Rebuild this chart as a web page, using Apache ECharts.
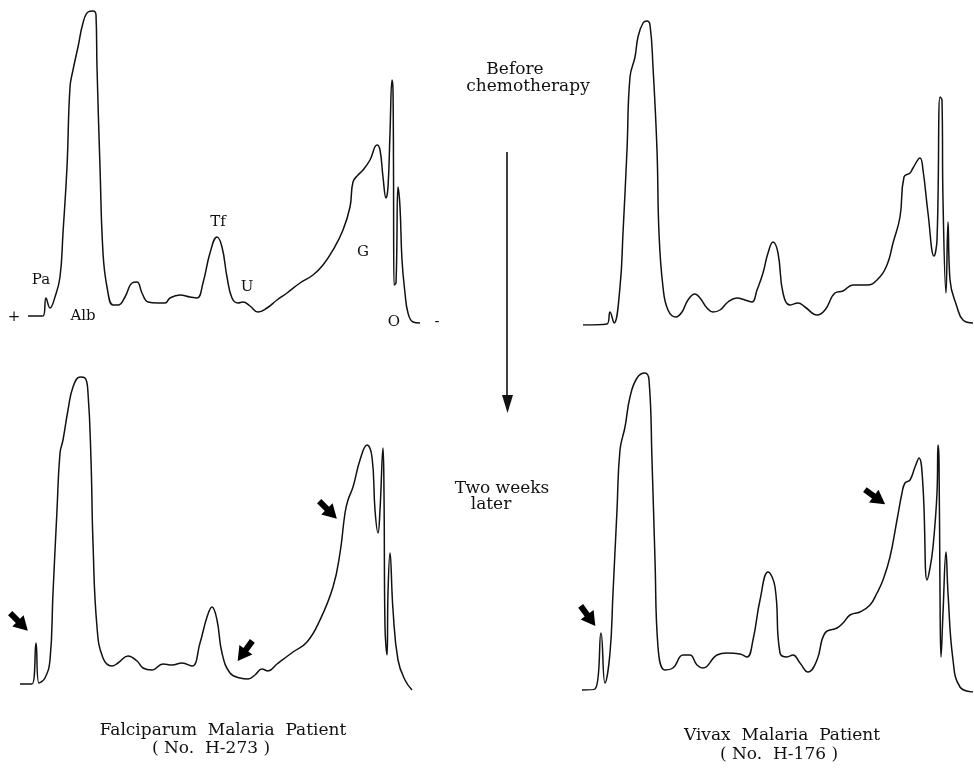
<!DOCTYPE html>
<html><head><meta charset="utf-8">
<script src="https://cdn.jsdelivr.net/npm/echarts@6/dist/echarts.min.js"></script>
<style>html,body{margin:0;padding:0;background:#fff}#c{width:974px;height:771px}</style>
</head><body><div id="c"></div>
<script>
// Densitometric scans: x = scan position, y = relative absorbance above baseline
const falciparumBefore = [[8,9],[23,9],[26,27],[30,17],[35,28],[40,48],[43,92],[47,158],[50,238],[53,255],[58,278],[63,302],[68,313],[73,314],[76,310],[77,258],[80,158],[83,72],[87,38],[93,20],[98,20],[105,28],[112,42],[117,43],[122,32],[128,23],[138,22],[145,22],[150,27],[160,30],[170,28],[177,27],[183,42],[190,72],[197,88],[202,78],[207,48],[212,27],[218,22],[223,23],[230,19],[238,13],[247,17],[257,25],[267,32],[280,42],[293,50],[303,60],[313,75],[323,95],[330,118],[333,143],[338,150],[343,155],[350,165],[357,180],[360,175],[363,148],[366,127],[368,138],[370,192],[372,245],[373,235],[373.5,158],[374,40],[376,42],[378,138],[380,118],[382,65],[385,32],[388,12],[393,3],[400,2]];
const vivaxBefore = [[3,0],[27,1],[30,13],[34,2],[40,38],[43,92],[47,175],[50,248],[55,268],[58,288],[63,302],[67,304],[70,300],[73,258],[77,175],[79,92],[83,38],[88,15],[96,8],[102,13],[108,25],[115,31],[120,27],[127,17],[133,13],[140,15],[148,23],[157,27],[165,25],[172,23],[177,35],[183,52],[188,72],[193,83],[198,72],[203,32],[210,20],[218,22],[225,18],[237,10],[245,15],[255,32],[263,34],[273,40],[287,40],[297,45],[307,60],[313,82],[320,108],[324,148],[330,152],[333,157],[340,167],[343,155],[348,112],[354,69],[357,85],[360,228],[362,225],[363,125],[366,32],[368,103],[370,45],[377,18],[383,5],[393,2]];
const falciparumAfter = [[5,6],[17,6],[21,47],[24,7],[30,12],[35,30],[38,97],[42,180],[45,237],[48,250],[53,280],[58,303],[65,313],[70,312],[73,297],[76,230],[78,147],[82,63],[88,32],[97,24],[103,27],[113,34],[122,29],[128,22],[137,20],[148,26],[157,25],[167,27],[177,24],[185,47],[192,73],[197,83],[202,70],[207,37],[215,17],[225,12],[233,11],[240,15],[247,21],[253,19],[262,26],[278,38],[292,48],[305,70],[318,103],[325,137],[330,177],[333,190],[338,203],[345,230],[352,245],[357,233],[360,180],[363,157],[365,180],[368,242],[369,197],[370,63],[372,35],[373,97],[375,137],[378,80],[383,30],[390,10],[397,0]];
const vivaxAfter = [[2,2],[15,3],[21,59],[25,9],[30,39],[33,99],[37,182],[40,242],[45,265],[50,295],[57,314],[65,319],[69,312],[72,232],[75,132],[78,45],[85,22],[93,24],[103,37],[110,37],[117,27],[123,24],[137,37],[147,39],[160,38],[167,35],[173,52],[180,92],[188,120],[195,105],[200,39],[207,35],[213,37],[220,29],[228,20],[237,32],[245,59],[257,64],[263,69],[270,77],[280,80],[290,87],[297,99],[303,112],[310,135],[317,172],[322,199],[325,209],[330,212],[335,225],[339,234],[343,205],[347,112],[350,124],[353,145],[357,199],[358,247],[359,232],[360,99],[361,35],[363,79],[366,140],[368,99],[373,32],[380,5],[393,0]];
// Arrow annotations: [x, y, rotation]
const falciparumArrows = [[4,68,-45],[230,39,-126],[313,180,-45]];
const vivaxArrows = [[8,76,-54],[295,195,-36]];
// Fraction labels (top-left scan)
const fractionLabels = [['Pa',41,280],['Alb',83,316],['Tf',218,222],['U',247,287],['G',363,252],['O',394,322],['+',14,317],['-',437,322]];

const SERIF = '"DejaVu Serif","Liberation Serif",serif';
const ARROW = 'path://M0,5 L11,5 L11,0 L25,8 L11,16 L11,11 L0,11 Z';
const grids = [
  {left:20, top:0, width:420, height:325},
  {left:580, top:0, width:394, height:325},
  {left:15, top:365, width:420, height:325},
  {left:580, top:367, width:394, height:325}
];
const xMax = [420,394,420,394];
function mp(arr){
  return {symbol:ARROW, symbolSize:[25,16], silent:true, label:{show:false},
    itemStyle:{color:'#000'},
    data: arr.map(a=>({coord:[a[0],a[1]], symbolRotate:a[2]}))};
}
const traces=[falciparumBefore,vivaxBefore,falciparumAfter,vivaxAfter];
const series = traces.map((d,i)=>({
  type:'line', xAxisIndex:i, yAxisIndex:i, data:d, showSymbol:false, symbol:'none',
  smooth:0.45, lineStyle:{color:'#111', width:1.5}, animation:false,
  markPoint: i===2 ? mp(falciparumArrows) : (i===3 ? mp(vivaxArrows) : undefined)
}));
const graphic = [];
fractionLabels.forEach(l=>graphic.push({type:'text', x:l[1], y:l[2], style:{text:l[0], font:'15px '+SERIF, fill:'#111', align:'center', verticalAlign:'middle'}}));
const texts = [
  ['Before',515,70,17],['chemotherapy',528,87,17],
  ['Two weeks',502,489,17],['later',491,505,17],
  ['Falciparum  Malaria  Patient',223,731,17],['( No.  H-273 )',211,749,17],
  ['Vivax  Malaria  Patient',782,736,17],['( No.  H-176 )',779,755,17]
];
texts.forEach(t=>graphic.push({type:'text', x:t[1], y:t[2], style:{text:t[0], font:t[3]+'px '+SERIF, fill:'#111', align:'center', verticalAlign:'middle'}}));
graphic.push({type:'line', shape:{x1:507,y1:152,x2:507,y2:398}, style:{stroke:'#111', lineWidth:1.6}});
graphic.push({type:'polygon', shape:{points:[[502,395],[513,395],[507.5,413]]}, style:{fill:'#111'}});

const chart = echarts.init(document.getElementById('c'));
chart.setOption({
  animation:false,
  grid: grids,
  xAxis: grids.map((g,i)=>({type:'value', gridIndex:i, min:0, max:xMax[i], show:false})),
  yAxis: grids.map((g,i)=>({type:'value', gridIndex:i, min:0, max:325, show:false})),
  series: series,
  graphic: graphic
});
</script></body></html>
